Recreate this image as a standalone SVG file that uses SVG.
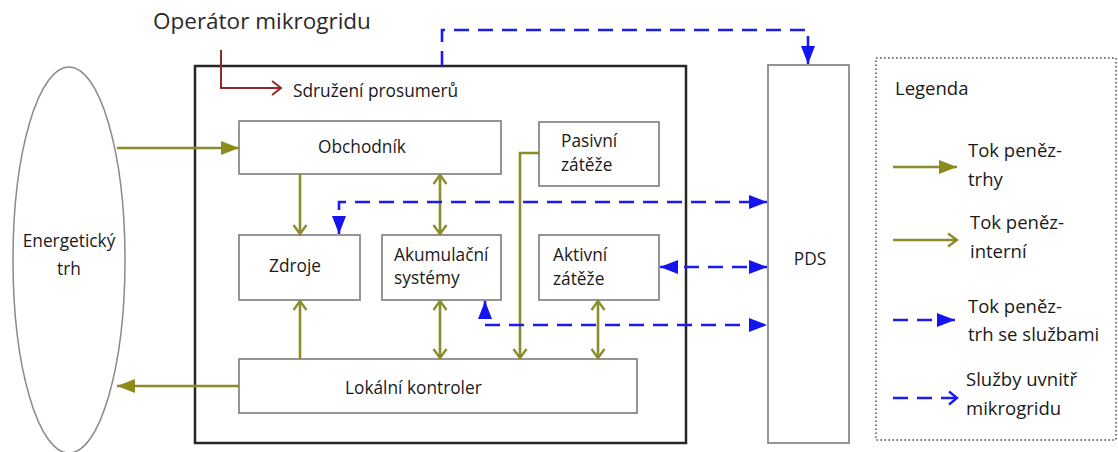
<svg xmlns="http://www.w3.org/2000/svg" width="1118" height="452" viewBox="0 0 1118 452">
  <style>
    text { font-family: "Open Sans", "Liberation Sans", sans-serif; fill: #1a1a1a; font-size: 17.3px; }
    .title { font-size: 22.5px; fill: #2a2a2a; }
    .legend { font-size: 18.5px; }
    .box { fill: #ffffff; stroke: #8a8a8a; stroke-width: 1.8; }
    .outer { fill: none; stroke: #262626; stroke-width: 2.5; }
    .money { fill: none; stroke: #8c8c2c; stroke-width: 2.6; }
    .svc { fill: none; stroke: #1c1cf0; stroke-width: 2.6; stroke-dasharray: 15 9; }
    .org { fill: none; stroke: #8e2a2a; stroke-width: 2; }
  </style>
  <defs>
    <marker id="olive-fill" markerUnits="userSpaceOnUse" markerWidth="20" markerHeight="16" viewBox="0 0 20 16" refX="18" refY="8" orient="auto-start-reverse">
      <path d="M0,1 L18,8 L0,15 Z" fill="#8c8c1c"/>
    </marker>
    <marker id="olive-open" markerUnits="userSpaceOnUse" markerWidth="14" markerHeight="16" viewBox="0 0 14 16" refX="12" refY="8" orient="auto-start-reverse">
      <path d="M3,1.5 L12,8 L3,14.5" fill="none" stroke="#8c8c2c" stroke-width="2.4"/>
    </marker>
    <marker id="blue-fill" markerUnits="userSpaceOnUse" markerWidth="20" markerHeight="16" viewBox="0 0 20 16" refX="18" refY="8" orient="auto-start-reverse">
      <path d="M0,1 L18,8 L0,15 Z" fill="#1414f0"/>
    </marker>
    <marker id="blue-open" markerUnits="userSpaceOnUse" markerWidth="14" markerHeight="16" viewBox="0 0 14 16" refX="12" refY="8" orient="auto-start-reverse">
      <path d="M4,1.5 L12,8 L4,14.5" fill="none" stroke="#1c1cf0" stroke-width="2.4"/>
    </marker>
    <marker id="red-open" markerUnits="userSpaceOnUse" markerWidth="16" markerHeight="18" viewBox="0 0 16 18" refX="14" refY="9" orient="auto">
      <path d="M5,2 L14,9 L5,16" fill="none" stroke="#8e2a2a" stroke-width="2"/>
    </marker>
  </defs>

  <!-- title of the operator -->
  <text class="title" x="153" y="29">Operátor mikrogridu</text>

  <!-- energy market -->
  <g id="energeticky-trh">
    <ellipse cx="69" cy="260" rx="56" ry="193" fill="#ffffff" stroke="#8a8a8a" stroke-width="1.5"/>
    <text x="69" y="247" text-anchor="middle">Energetický</text>
    <text x="69" y="275" text-anchor="middle">trh</text>
  </g>

  <!-- prosumer association frame -->
  <g id="sdruzeni">
    <rect class="outer" x="195" y="66" width="491" height="377"/>
    <text x="293" y="97">Sdružení prosumerů</text>
  </g>

  <g id="obchodnik">
    <rect class="box" x="239" y="121" width="262" height="53"/>
    <text x="318" y="153">Obchodník</text>
  </g>

  <g id="pasivni-zateze">
    <rect class="box" x="539" y="122" width="120" height="64"/>
    <text x="561" y="147">Pasivní</text>
    <text x="561" y="171">zátěže</text>
  </g>

  <g id="zdroje">
    <rect class="box" x="239" y="235" width="121" height="65"/>
    <text x="269" y="272">Zdroje</text>
  </g>

  <g id="akumulacni-systemy">
    <rect class="box" x="382" y="235" width="119" height="65"/>
    <text x="394" y="261">Akumulační</text>
    <text x="394" y="284">systémy</text>
  </g>

  <g id="aktivni-zateze">
    <rect class="box" x="539" y="235" width="120" height="65"/>
    <text x="553" y="261">Aktivní</text>
    <text x="553" y="285">zátěže</text>
  </g>

  <g id="lokalni-kontroler">
    <rect class="box" x="239" y="359" width="398" height="54"/>
    <text x="345" y="394">Lokální kontroler</text>
  </g>

  <g id="pds">
    <rect class="box" x="768" y="65" width="81" height="378"/>
    <text x="810" y="265" text-anchor="middle">PDS</text>
  </g>

  <g id="connectors">
    <!-- operator to association -->
    <path class="org" d="M221,50 V88 H281" marker-end="url(#red-open)"/>

    <!-- market money flows -->
    <path class="money" d="M117,148 H239" marker-end="url(#olive-fill)"/>
    <path class="money" d="M239,386 H117" marker-end="url(#olive-fill)"/>

    <!-- internal money flows -->
    <path class="money" d="M300,174 V234" marker-end="url(#olive-open)"/>
    <path class="money" d="M440,175 V234" marker-start="url(#olive-open)" marker-end="url(#olive-open)"/>
    <path class="money" d="M300,359 V301" marker-end="url(#olive-open)"/>
    <path class="money" d="M440,301 V358" marker-start="url(#olive-open)" marker-end="url(#olive-open)"/>
    <path class="money" d="M539,153 H520 V358" marker-end="url(#olive-open)"/>
    <path class="money" d="M598,301 V358" marker-start="url(#olive-open)" marker-end="url(#olive-open)"/>

    <!-- services with the distribution system operator -->
    <path class="svc" d="M442,66 V30 H808 V64" marker-end="url(#blue-fill)"/>
    <path class="svc" d="M339,234 V202 H767" marker-start="url(#blue-fill)" marker-end="url(#blue-fill)"/>
    <path class="svc" d="M660,267 H767" marker-start="url(#blue-fill)" marker-end="url(#blue-fill)"/>
    <path class="svc" d="M485,301 V325 H767" marker-start="url(#blue-fill)" marker-end="url(#blue-fill)"/>
  </g>

  <!-- legend -->
  <g id="legenda">
    <rect x="876" y="58" width="240" height="382" fill="none" stroke="#7a7a7a" stroke-width="2.2" stroke-dasharray="1.6 2.4"/>
    <text class="legend" x="895" y="95">Legenda</text>

    <path class="money" d="M893,167 H957" marker-end="url(#olive-fill)"/>
    <text class="legend" x="968" y="157">Tok peněz-</text>
    <text class="legend" x="968" y="186">trhy</text>

    <path class="money" d="M893,240 H957" marker-end="url(#olive-open)"/>
    <text class="legend" x="970" y="229">Tok peněz-</text>
    <text class="legend" x="970" y="258">interní</text>

    <path class="svc" d="M893,320 H955" marker-end="url(#blue-fill)"/>
    <text class="legend" x="968" y="313">Tok peněz-</text>
    <text class="legend" x="968" y="341">trh se službami</text>

    <path class="svc" d="M893,398 H957" marker-end="url(#blue-open)"/>
    <text class="legend" x="966" y="386">Služby uvnitř</text>
    <text class="legend" x="966" y="415">mikrogridu</text>
  </g>
</svg>
